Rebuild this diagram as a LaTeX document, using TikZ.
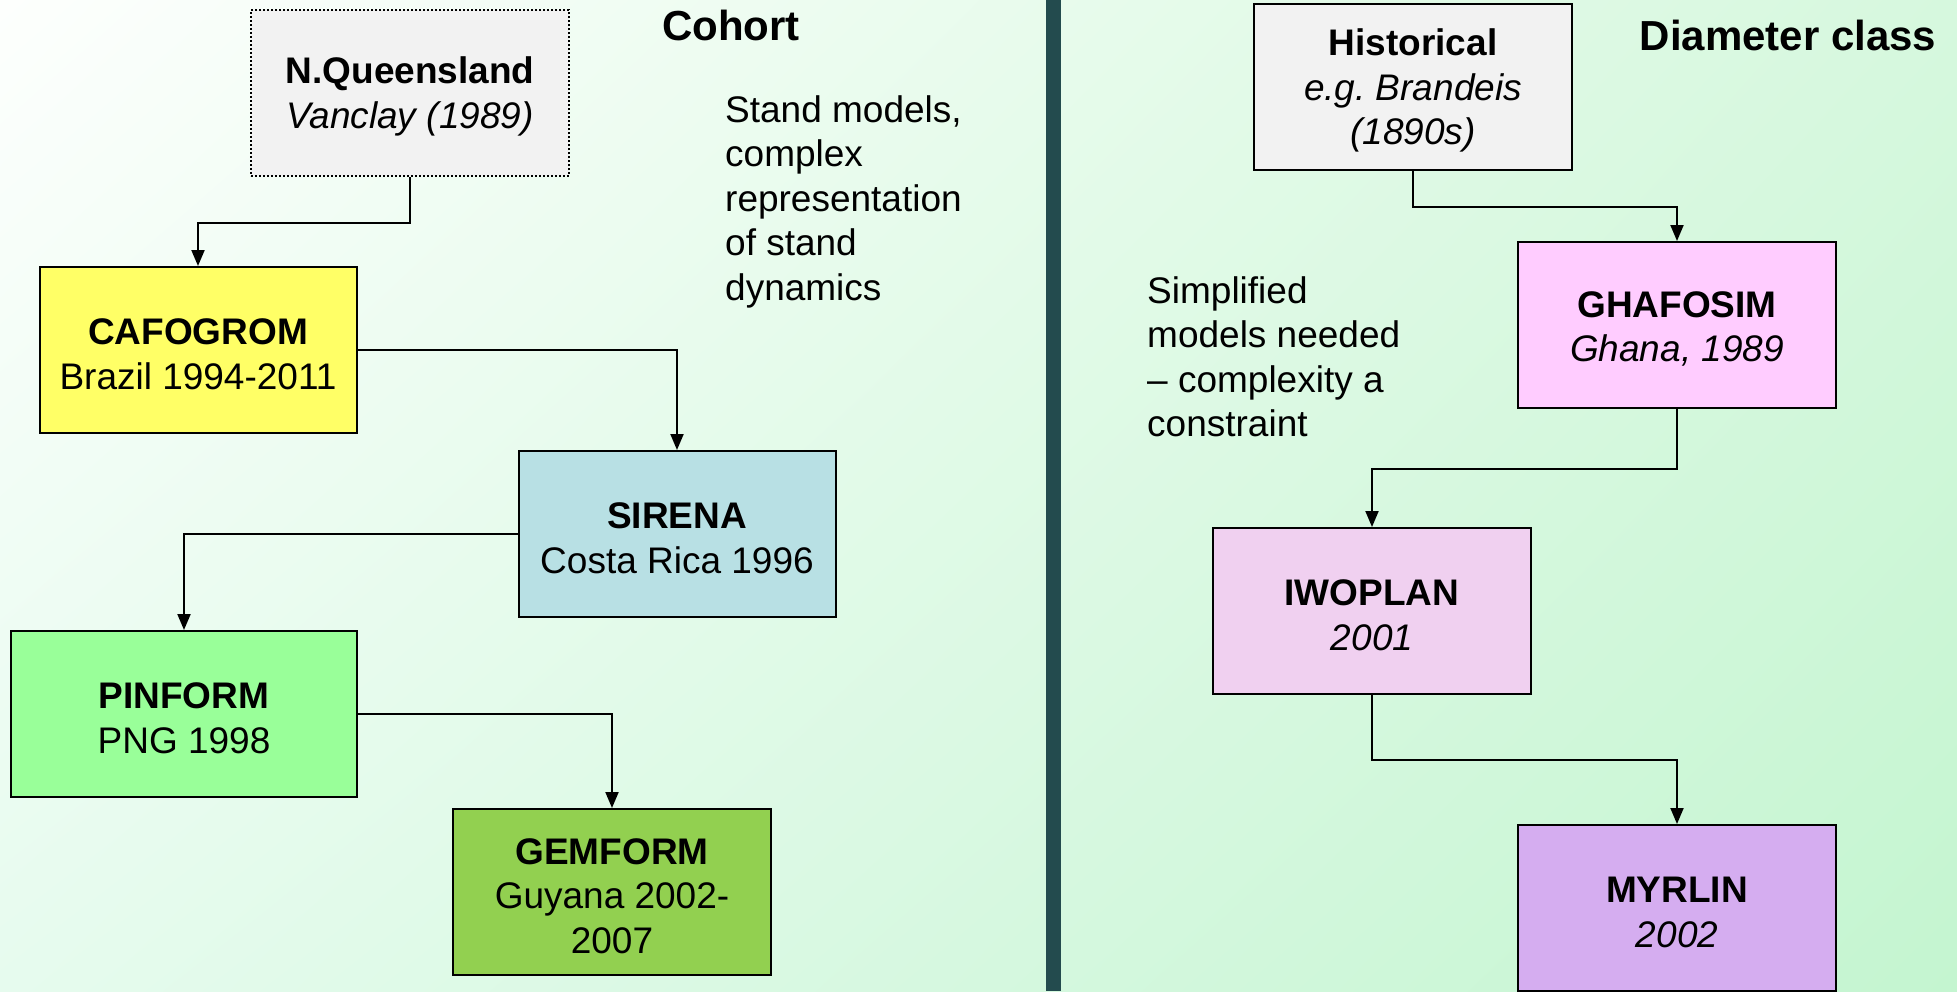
\documentclass[tikz,border=0pt]{standalone}
\usepackage{fontspec}
\setmainfont{Liberation Sans}
\usetikzlibrary{arrows.meta,shadings}
\definecolor{bgTL}{HTML}{FDFFFD}
\definecolor{bgTR}{HTML}{D6F8DE}
\definecolor{bgBL}{HTML}{E6FBEE}
\definecolor{bgBR}{HTML}{C4F5D0}
\definecolor{divcol}{HTML}{234B4E}
\definecolor{greyfill}{HTML}{F2F2F2}
\definecolor{yellowfill}{HTML}{FFFF66}
\definecolor{bluefill}{HTML}{B8E0E4}
\definecolor{greenfill}{HTML}{99FF99}
\definecolor{darkgreenfill}{HTML}{92D050}
\definecolor{pinkfill}{HTML}{FFCCFF}
\definecolor{mauvefill}{HTML}{F0D0F0}
\definecolor{lavfill}{HTML}{D5ADF0}
\newcommand\mytoppad{\rule{0pt}{34pt}}
\tikzset{
  modelbox/.style={draw=black, line width=2pt, minimum width=318pt, minimum height=166pt,
    inner sep=0pt, align=center, font=\fontsize{37}{44.5}\selectfont},
  conn/.style={draw=black, line width=2pt, -{Triangle[length=16pt,width=13pt]}},
  plain/.style={inner sep=0pt, align=left, font=\fontsize{37}{44.5}\selectfont},
  heading/.style={inner sep=0pt, font=\fontsize{42}{48}\selectfont\bfseries}
}
\begin{document}
\begin{tikzpicture}[x=1pt,y=-1pt]
\useasboundingbox (0,0) rectangle (1957,991);
\shade[upper left=bgTL, upper right=bgTR, lower left=bgBL, lower right=bgBR] (0,0) rectangle (1957,991);
\fill[divcol] (1046,0) rectangle (1061,991);

% left column
\node[modelbox, fill=greyfill, dash pattern=on 2pt off 2pt, line width=1.5pt] (nq) at (410,93) {\mytoppad\textbf{N.Queensland}\\\textit{Vanclay (1989)}};
\node[modelbox, fill=yellowfill, minimum width=317pt] (cafo) at (198,350) {\mytoppad\textbf{CAFOGROM}\\Brazil 1994-2011};
\node[modelbox, fill=bluefill, minimum width=317pt] (sirena) at (677,534) {\mytoppad\textbf{SIRENA}\\Costa Rica 1996};
\node[modelbox, fill=greenfill, minimum width=346pt] (pinform) at (184,714) {\mytoppad\textbf{PINFORM}\\PNG 1998};
\node[modelbox, fill=darkgreenfill] (gemform) at (612,892) {\mytoppad\textbf{GEMFORM}\\Guyana 2002-\\2007};

% right column
\node[modelbox, fill=greyfill] (hist) at (1413,87) {\mytoppad\textbf{Historical}\\\textit{e.g.\ Brandeis}\\\textit{(1890s)}};
\node[modelbox, fill=pinkfill] (ghafo) at (1677,325) {\mytoppad\textbf{GHAFOSIM}\\\textit{Ghana, 1989}};
\node[modelbox, fill=mauvefill] (iwo) at (1372,611) {\mytoppad\textbf{IWOPLAN}\\\textit{2001}};
\node[modelbox, fill=lavfill] (myrlin) at (1677,908) {\mytoppad\textbf{MYRLIN}\\\textit{2002}};

% connectors
\draw[conn] (nq.south) -- ++(0,46) -| (cafo.north);
\draw[conn] (cafo.east) -| (sirena.north);
\draw[conn] (sirena.west) -| (pinform.north);
\draw[conn] (pinform.east) -| (gemform.north);
\draw[conn] (hist.south) -- ++(0,36) -| (ghafo.north);
\draw[conn] (ghafo.south) -- ++(0,60) -| (iwo.north);
\draw[conn] (iwo.south) -- ++(0,65) -| (myrlin.north);

% headings and notes
\node[heading] (cohort) at (731,25) {Cohort};
\node[heading] (diam) at (1788,35) {Diameter class};
\node[plain, anchor=north west] (standnote) at (725,95) {Stand models,\\complex\\representation\\of stand\\dynamics};
\node[plain, anchor=north west] (simpnote) at (1147,276) {Simplified\\models needed\\– complexity a\\constraint};
\end{tikzpicture}
\end{document}
